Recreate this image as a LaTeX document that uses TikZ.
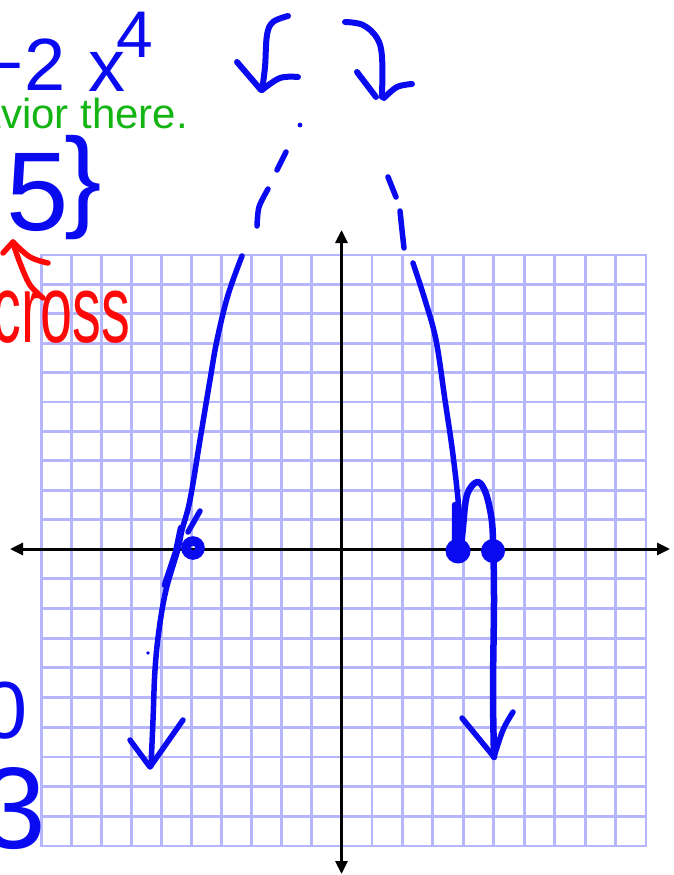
\documentclass[tikz,border=0pt]{standalone}
\usepackage{fontspec}
\setmainfont{Liberation Sans}
\usetikzlibrary{arrows.meta}
\definecolor{pen}{RGB}{10,10,240}
\definecolor{gridc}{RGB}{182,182,255}
\definecolor{greentxt}{RGB}{20,180,20}
\definecolor{redpen}{RGB}{255,8,8}
\begin{document}
\begin{tikzpicture}[x=1pt,y=-1pt,
  gridline/.style={draw=gridc,line width=2.8pt},
  axisline/.style={draw=black,line width=3pt,{Triangle[length=13pt,width=12pt]}-{Triangle[length=13pt,width=12pt]}},
  penline/.style={draw=pen,line width=5.5pt,line cap=round,line join=round},
  thickpen/.style={draw=pen,line width=6.5pt,line cap=round,line join=round},
  redline/.style={draw=redpen,line width=5.5pt,line cap=round,line join=round},
  bluetxt/.style={text=pen,inner sep=0pt,outer sep=0pt},
  redtxt/.style={text=redpen,inner sep=0pt,outer sep=0pt},
  greentext/.style={text=greentxt,inner sep=0pt,outer sep=0pt},
  rootdot/.style={fill=pen,draw=none}
]
\useasboundingbox (0,0) rectangle (673,875);
\fill[white] (0,0) rectangle (673,875);

% grid
\foreach \i in {0,...,10} \draw[gridline] ({41.5+30*\i},255) -- ({41.5+30*\i},846);
\foreach \i in {1,...,10} \draw[gridline] ({341.5+30.45*\i},255) -- ({341.5+30.45*\i},846);
\foreach \j in {0,...,10} \draw[gridline] (40.1,{255+29.4*\j}) -- (647.4,{255+29.4*\j});
\foreach \j in {1,...,10} \draw[gridline] (40.1,{549+29.7*\j}) -- (647.4,{549+29.7*\j});

% axes
\coordinate (xl) at (10,549);
\coordinate (xr) at (670,549);
\coordinate (yt) at (341.5,230);
\coordinate (yb) at (341.5,874);
\draw[axisline] (xl) -- (xr);
\draw[axisline] (yt) -- (yb);

% top arrows
\draw[penline,line width=6pt] plot[smooth,tension=0.6] coordinates {(288,16) (273,22) (267,35) (265,67) (262,90)};
\draw[penline,line width=6pt] (237,62) -- (261,90);
\draw[penline,line width=6pt] plot[smooth,tension=0.6] coordinates {(262,90) (280,78) (298,77)};
\draw[penline,line width=6pt] plot[smooth,tension=0.6] coordinates {(345,22) (363,25) (377,38) (382,57) (382,97)};
\draw[penline,line width=6pt] (357,72) -- (376,97);
\draw[penline,line width=6pt] plot[smooth,tension=0.6] coordinates {(384,98) (397,87) (412,84)};

% left branch
\fill[pen] (300,125) circle (2.4);
\draw[penline] (286,152) -- (277,170);
\draw[penline] plot[smooth] coordinates {(268,189) (259,207) (257,226)};
\draw[penline] plot[smooth,tension=0.6] coordinates {(242,256) (228,295) (217,340) (210,380) (200,440) (190,500) (182,530) (178,549) (166,590) (159,630) (155,670) (153,720) (151,766)};
\draw[thickpen] (181,528) -- (176,552) -- (165,585);
\draw[penline] (200,511) -- (188,532);
\draw[penline] (130,740) -- (150,767) -- (183,720);
\fill[pen] (148,653) circle (1.8);
\draw[draw=pen,line width=9.5pt] (193,548) circle (7);

% right branch
\draw[penline] (388,177) -- (392,187) -- (396,197);
\draw[penline] plot[smooth] coordinates {(400,211) (402,230) (404,248)};
\draw[penline] plot[smooth,tension=0.6] coordinates {(413,263) (425,300) (436,340) (445,400) (453,455) (459,510) (461,549)};
\draw[thickpen] (455,505) -- (455,540) -- (459,549);
\draw[thickpen] plot[smooth,tension=0.6] coordinates {(461,549) (463,527) (467,495) (477,482) (485,491) (491,515) (493,540) (494,600) (493,690) (494,757)};
\draw[penline] (462,718) -- (494,757);
\draw[penline] plot[smooth,tension=0.6] coordinates {(494,757) (503,730) (513,712)};
\fill[rootdot] (458,551) circle (12.5);
\fill[rootdot] (493,551) circle (12);

% texts
\node[bluetxt,anchor=base west] (t2) at (-19,90) {\fontsize{74}{74}\selectfont −2};
\node[bluetxt,anchor=base west] (tx) at (88,92) {\fontsize{74}{74}\selectfont x};
\node[bluetxt,anchor=base west] (t4) at (116,58) {\fontsize{66}{66}\selectfont 4};
\node[greentext,anchor=base east] (tg) at (188,128) {\fontsize{42}{42}\selectfont behavior there.};
\node[bluetxt,anchor=base west] (t5) at (6,230) {\fontsize{112}{112}\selectfont 5};
\node[bluetxt,anchor=base west] (tb) at (64,216) {\fontsize{112}{112}\selectfont \}};
\node[redtxt,anchor=base east] (tc) at (130,342) {\scalebox{0.6}[1]{\fontsize{96}{96}\selectfont cross}};
\node[bluetxt,anchor=base east] (t0) at (28,738) {\fontsize{81}{81}\selectfont 0};
\node[bluetxt,anchor=base east] (t3) at (46,848) {\fontsize{116}{116}\selectfont 3};

% red arrow
\draw[redline] plot[smooth,tension=0.6] coordinates {(43,298) (30,285) (20,263) (13,243)};
\draw[redline] (3,253) -- (13,242);
\draw[redline] plot[smooth,tension=0.6] coordinates {(13,242) (30,257) (48,263)};
\end{tikzpicture}
\end{document}
